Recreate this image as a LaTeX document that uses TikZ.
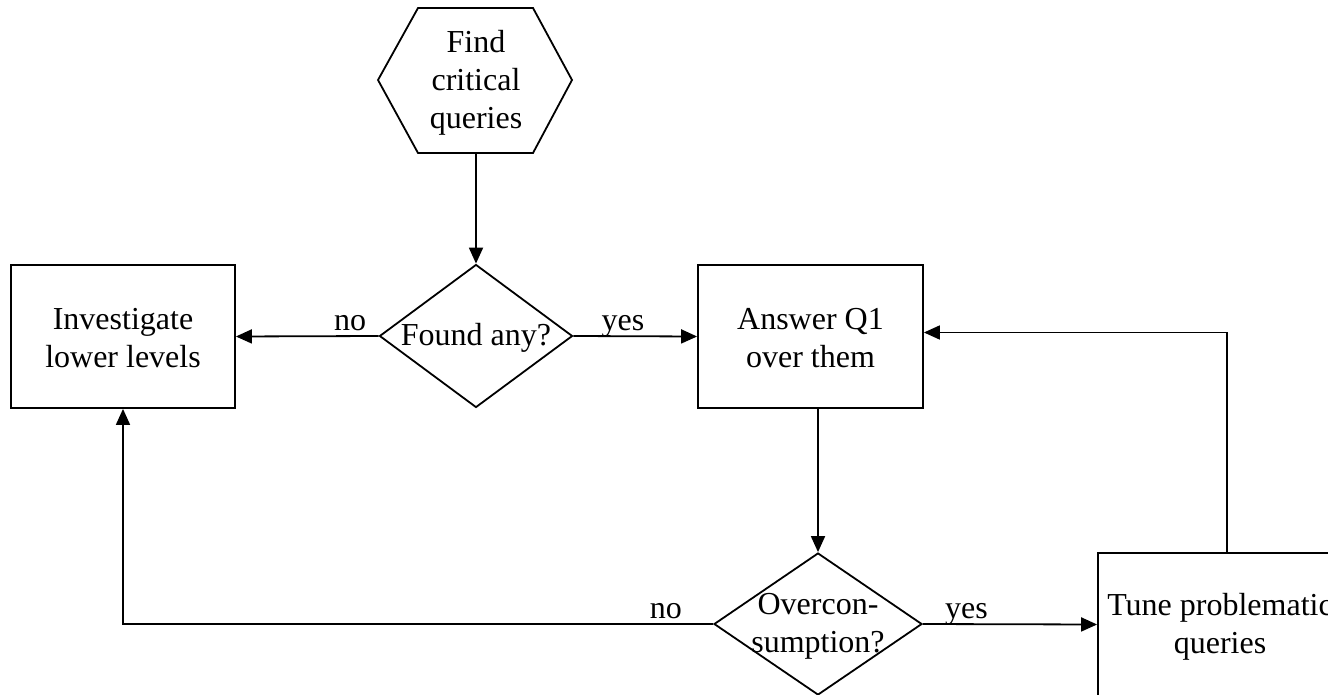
\documentclass[tikz,border=0pt]{standalone}
\usepackage{fontspec}
\setmainfont{Liberation Serif}
\usetikzlibrary{shapes.geometric,arrows.meta,calc}
\begin{document}
\begin{tikzpicture}[x=1pt,y=-1pt,
  every node/.style={font=\fontsize{32}{38}\selectfont, align=center},
  arr/.style={line width=1.8pt, -{Triangle[length=16pt,width=14pt]}},
  boxnode/.style={draw, line width=1.8pt, rectangle, inner sep=0pt},
  decision/.style={draw, line width=1.8pt, diamond, inner sep=0pt},
  txt/.style={inner sep=0pt, yshift=-2pt},
  lbl/.style={anchor=base, inner sep=0pt, yshift=6pt}]
\useasboundingbox (0,0) rectangle (1328,695);
% hexagon start
\draw[line width=1.8pt, line join=miter] (378,80) -- (418,8) -- (533,8) -- (572,80) -- (533,153) -- (418,153) -- cycle;
\node[minimum width=194pt, minimum height=145pt, inner sep=0pt] (find) at (476,80.5) {};
\node[txt] (findtxt) at (find.center) {Find\\critical\\queries};
\node[decision, minimum width=193pt, minimum height=143pt] (dec1) at (476,336) {};
\node[txt] (dec1txt) at (dec1.center) {Found any?};
\node[boxnode, minimum width=224pt, minimum height=143pt] (inv) at (123,336.5) {};
\node[txt] (invtxt) at (inv.center) {Investigate\\lower levels};
\node[boxnode, minimum width=225pt, minimum height=143pt] (ans) at (810.5,336.5) {};
\node[txt] (anstxt) at (ans.center) {Answer Q1\\over them};
\node[decision, minimum width=208pt, minimum height=142pt] (dec2) at (818,624) {};
\node[txt] (dec2txt) at (dec2.center) {Overcon-\\sumption?};
\node[boxnode, minimum width=244pt, minimum height=143pt] (tune) at (1220,624.5) {};
\node[txt] (tunetxt) at (tune.center) {Tune problematic\\queries};
% connectors
\draw[arr] (find.south) -- (dec1.north);
\draw[arr] (dec1.west) -- node[lbl, pos=0.2] {no} (inv.east);
\draw[arr] (dec1.east) -- node[lbl, pos=0.4] {yes} (ans.west);
\draw[arr] (dec2.north |- ans.south) -- (dec2.north);
\draw[arr] (dec2.east) -- node[lbl, pos=0.25] {yes} (tune.west);
\draw[arr] (dec2.west) -- node[lbl, pos=0.08] {no} (dec2.west -| inv.south) -- (inv.south);
\draw[arr] ([xshift=7pt]tune.north) |- ([yshift=4pt]ans.east);
\end{tikzpicture}
\end{document}
